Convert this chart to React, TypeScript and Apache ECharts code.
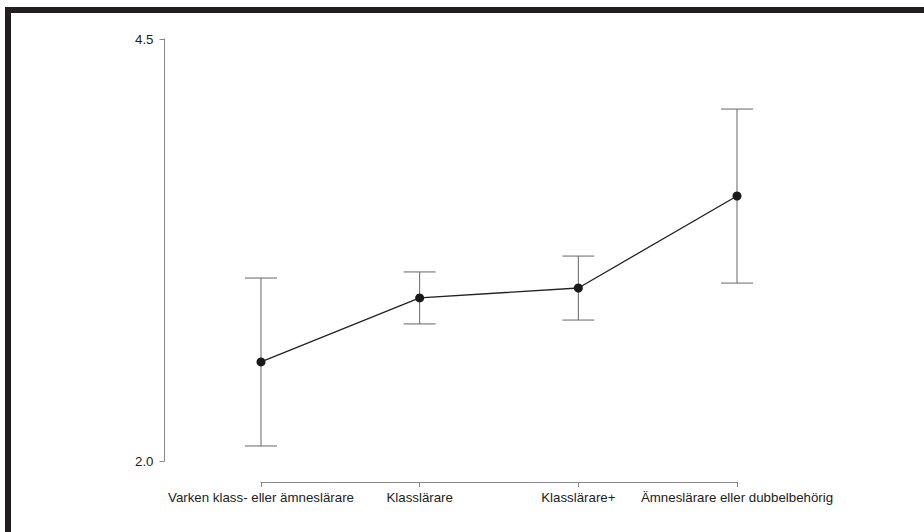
import React, { useEffect, useRef } from "react";
import * as echarts from "echarts";

const categories = [
  "Varken klass- eller ämneslärare",
  "Klasslärare",
  "Klasslärare+",
  "Ämneslärare eller dubbelbehörig",
];
const means = [2.587, 2.966, 3.025, 3.57];
const lower = [2.089, 2.812, 2.835, 3.054];
const upper = [3.084, 3.12, 3.214, 4.085];
const yTicks = [2.0, 4.5];

export default function App() {
  const ref = useRef<HTMLDivElement>(null);
  useEffect(() => {
    if (!ref.current) return;
    const chart = echarts.init(ref.current, null, { renderer: "svg" });
    const font = "Liberation Sans, Arial, Helvetica, sans-serif";
    const errData = categories.map((_, i) => [i, lower[i], upper[i]]);
    chart.setOption({
      animation: false,
      backgroundColor: "#ffffff",
      grid: { left: 261, right: 187, top: 39, bottom: 71, containLabel: false },
      xAxis: {
        type: "category",
        data: categories,
        boundaryGap: false,
        offset: 21,
        axisLine: { show: true, lineStyle: { color: "#888888", width: 1 } },
        axisTick: { show: true, inside: false, length: 5, lineStyle: { color: "#888888" } },
        axisLabel: { margin: 9, color: "#222222", fontSize: 13.3, fontFamily: font, interval: 0 },
        splitLine: { show: false },
      },
      yAxis: {
        type: "value",
        min: 2,
        max: 4.5,
        offset: 96.5,
        axisLine: { show: true, lineStyle: { color: "#888888", width: 1 } },
        axisTick: { show: true, length: 5, customValues: yTicks, lineStyle: { color: "#888888" } },
        axisLabel: {
          margin: 11,
          color: "#222222",
          fontSize: 13.3,
          fontFamily: font,
          customValues: yTicks,
          formatter: (v: number) => v.toFixed(1),
        },
        splitLine: { show: false },
      },
      graphic: [
        { type: "rect", shape: { x: 5, y: 7, width: 919, height: 6 }, style: { fill: "#231f20" }, z: 100 },
        { type: "rect", shape: { x: 5, y: 7, width: 6, height: 525 }, style: { fill: "#231f20" }, z: 100 },
      ],
      series: [
        {
          type: "custom",
          data: errData,
          encode: { x: 0, y: [1, 2] },
          z: 1,
          renderItem: (params: any, api: any) => {
            const x = api.value(0);
            const lo = api.coord([x, api.value(1)]);
            const hi = api.coord([x, api.value(2)]);
            const hw = 16;
            const style = { stroke: "#666666", lineWidth: 1 };
            return {
              type: "group",
              children: [
                { type: "line", shape: { x1: lo[0], y1: lo[1], x2: hi[0], y2: hi[1] }, style },
                { type: "line", shape: { x1: hi[0] - hw, y1: hi[1], x2: hi[0] + hw, y2: hi[1] }, style },
                { type: "line", shape: { x1: lo[0] - hw, y1: lo[1], x2: lo[0] + hw, y2: lo[1] }, style },
              ],
            };
          },
        },
        {
          type: "line",
          data: means,
          z: 3,
          symbol: "circle",
          symbolSize: 9,
          lineStyle: { color: "#222222", width: 1.3 },
          itemStyle: { color: "#1a1a1a" },
        },
      ],
    });
    return () => chart.dispose();
  }, []);
  return (
    <div
      ref={ref}
      style={{ position: "absolute", left: 0, top: 0, width: 924, height: 532 }}
    />
  );
}
